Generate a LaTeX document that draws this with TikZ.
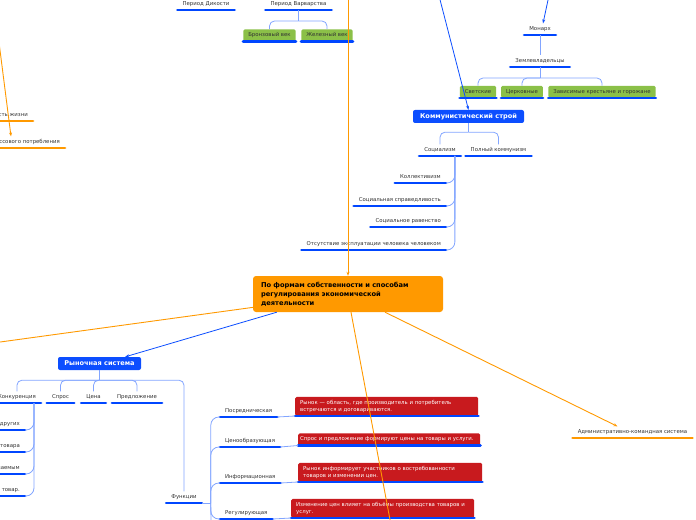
\documentclass[tikz,border=0pt]{standalone}
\usepackage{fontspec}
\setmainfont{DejaVu Sans}
\usetikzlibrary{arrows.meta}
\definecolor{boxblue}{RGB}{12,78,255}
\definecolor{barblue}{RGB}{0,70,255}
\definecolor{linkblue}{RGB}{130,165,255}
\definecolor{orng}{RGB}{255,153,0}
\definecolor{grn}{RGB}{139,192,72}
\definecolor{rd}{RGB}{200,26,30}
\definecolor{txtgrey}{RGB}{51,51,51}
\tikzset{
  lbl/.style={font=\fontsize{5.4}{6.5}\selectfont, text=txtgrey, inner xsep=5bp, inner ysep=3bp, text height=4bp, text depth=1.2bp},
  gbox/.style={lbl, fill=grn, rounded corners=1.5bp, minimum height=12bp, inner ysep=2bp, anchor=south},
  rbox/.style={font=\fontsize{5.4}{6.5}\selectfont, fill=rd, text=white, rounded corners=1.5bp, align=left, inner xsep=5bp, inner ysep=2bp, minimum height=19bp, anchor=south west},
  bbox/.style={fill=boxblue, text=white, font=\bfseries\fontsize{6.6}{8}\selectfont, rounded corners=2bp, minimum height=13bp, inner sep=2bp},
  mainbox/.style={fill=orng, text=black, font=\bfseries\fontsize{6.7}{9}\selectfont, rounded corners=3bp, align=left, text width=174bp, inner xsep=8bp, minimum height=36bp},
  bbar/.style={draw=barblue, line width=2.8bp, line cap=round},
  obar/.style={draw=orng, line width=2.8bp, line cap=round},
  link/.style={draw=linkblue, line width=0.8bp, rounded corners=5bp},
  oline/.style={draw=orng, line width=0.9bp},
  oarr/.style={oline, -{Stealth[length=4bp,width=3bp]}},
  barr/.style={draw=boxblue, line width=0.8bp, -{Stealth[length=4bp,width=3bp]}}
}
\begin{document}
\begin{tikzpicture}[x=1bp,y=-1bp]
\useasboundingbox (0,0) rectangle (696,520);

\node[lbl,anchor=south] (dik) at (206,10) {Период Дикости};
\node[lbl,anchor=south] (varv) at (298.5,10) {Период Варварства};
\node[gbox] (bronz) at (269.5,41.5) {Бронзовый век};
\node[gbox] (zhel) at (327,41.5) {Железный век};

\node[lbl,anchor=south] (monarch) at (540,35) {Монарх};
\node[lbl,anchor=south] (zeml) at (540,67) {Землевладельцы};
\node[gbox] (svet) at (478,98) {Светские};
\node[gbox] (cerk) at (522,98) {Церковные};
\node[gbox] (zav) at (602,98) {Зависимые крестьяне и горожане};

\node[bbox,minimum width=111bp] (kom) at (468.5,116.5) {Коммунистический строй};
\node[lbl,anchor=south] (soc) at (440,156) {Социализм};
\node[lbl,anchor=south] (pk) at (498.5,156) {Полный коммунизм};
\node[lbl,anchor=south east] (koll) at (446,183) {Коллективизм};
\node[lbl,anchor=south east] (sprav) at (446,206) {Социальная справедливость};
\node[lbl,anchor=south east] (rav) at (446,227) {Социальное равенство};
\node[lbl,anchor=south east] (ekspl) at (446,250) {Отсутствие эксплуатации человека человеком};

\node[lbl,anchor=south east] (life) at (33,121) {сть жизни};
\node[lbl,anchor=south east] (mass) at (65,148) {ссового потребления};

\node[mainbox] (main) at (348,294) {По формам собственности и способам\\регулирования экономической\\деятельности};

\node[bbox,minimum width=83bp] (rynok) at (99.5,363.5) {Рыночная система};
\node[lbl,anchor=south east] (konk) at (41,403) {Конкуренция};
\node[lbl,anchor=south] (spros) at (60.5,403) {Спрос};
\node[lbl,anchor=south] (cena) at (93.5,403) {Цена};
\node[lbl,anchor=south] (predl) at (137,403) {Предложение};
\node[lbl,anchor=south] (funk) at (184,503) {Функции};
\node[lbl,anchor=south east] (k1) at (25,430) {других};
\node[lbl,anchor=south east] (k2) at (25,452) {товара};
\node[lbl,anchor=south east] (k3) at (25,474) {ваемым};
\node[lbl,anchor=south east] (k4) at (25,496) {товар.};

\node[lbl,anchor=south west] (posr) at (220,417) {Посредническая};
\node[lbl,anchor=south west] (cenoobr) at (220,447) {Ценообразующая};
\node[lbl,anchor=south west] (inf) at (220,483) {Информационная};
\node[lbl,anchor=south west] (reg) at (220,519) {Регулирующая};
\node[rbox,text width=173bp] (r1) at (295,416) {Рынок — область, где производитель и потребитель\\встречаются и договариваются.};
\node[rbox,text width=178bp,inner xsep=2bp,minimum height=12bp] (r2) at (298,445.5) {Спрос и предложение формируют цены на товары и услуги.};
\node[rbox,text width=174bp] (r3) at (298,482) {Рынок информирует участников о востребованности\\товаров и изменении цен.};
\node[rbox,text width=173bp] (r4) at (291,518) {Изменение цен влияет на объёмы производства товаров и\\услуг.};

\node[lbl,anchor=south] (adm) at (632.5,438) {Административно-командная система};

\coordinate (srcT) at (348,-5);
\coordinate (srcL) at (-10,343.4);
\coordinate (srcB) at (391,525);
\coordinate (srcTL) at (-1.3,40);
\coordinate (srcKom) at (438.8,-5);
\coordinate (srcMon) at (549.1,-5);
\coordinate (fend) at (211,530);

\foreach \n in {dik,varv,bronz,zhel,monarch,zeml,svet,cerk,zav,soc,pk,koll,sprav,rav,ekspl,konk,spros,cena,predl,funk,k1,k2,k3,k4,posr,cenoobr,inf,reg,r1,r2,r3,r4}
  \draw[bbar] (\n.south west) -- (\n.south east);
\foreach \n in {life,mass,adm}
  \draw[obar] (\n.south west) -- (\n.south east);

\draw[link] (varv.south) -- ++(0,11) coordinate (vj);
\draw[link] (vj) -| (bronz.north);
\draw[link] (vj) -| (zhel.north);
\draw[link] (monarch.south) -- (zeml.north);
\draw[link] (zeml.south) -- ++(0,11) coordinate (zj);
\foreach \n in {svet,cerk,zav}
  \draw[link] (zj) -| (\n.north);
\draw[link] (kom.south) -- ++(0,9) coordinate (kj);
\draw[link] (kj) -| (soc.north);
\draw[link] (kj) -| (pk.north);
\coordinate (socj) at ([xshift=-6bp]soc.south east);
\foreach \n in {koll,sprav,rav,ekspl}
  \draw[link,rounded corners=8bp] (socj) |- (\n.south east);
\draw[link] (rynok.south) -- ++(0,10) coordinate (rj);
\foreach \n in {konk,spros,cena,predl,funk}
  \draw[link] (rj) -| (\n.north);
\coordinate (konkj) at ([xshift=-7bp]konk.south east);
\foreach \n in {k1,k2,k3,k4}
  \draw[link,rounded corners=8bp] (konkj) |- (\n.south east);
\draw[link] (funk.south east) -- ++(9,0) coordinate (fj);
\draw[link] (fj) -- (fend);
\foreach \n in {posr,cenoobr,inf,reg}
  \draw[link,rounded corners=8bp] (fj) |- (\n.south west);
\draw[link] (posr.south east) -- (r1.south west);
\draw[link] (cenoobr.south east) -- (r2.south west);
\draw[link] (inf.south east) -- (r3.south west);
\draw[link] (reg.south east) -- (r4.south west);

\draw[oarr] (srcT) -- (main.north);
\draw[oline] (main.188) -- (srcL);
\draw[oline] ([xshift=3bp]main.south) -- (srcB);
\draw[oarr] ([xshift=37bp]main.south) -- ([xshift=-15bp]adm.north);
\draw[oarr] (srcTL) -- ([xshift=-54bp]mass.north east);
\draw[barr] ([xshift=24bp]main.south west) -- ([xshift=-16bp]rynok.north east);
\draw[barr] (srcKom) -- (kom.north);
\draw[barr] (srcMon) -- ([xshift=3bp]monarch.north);
\end{tikzpicture}
\end{document}
